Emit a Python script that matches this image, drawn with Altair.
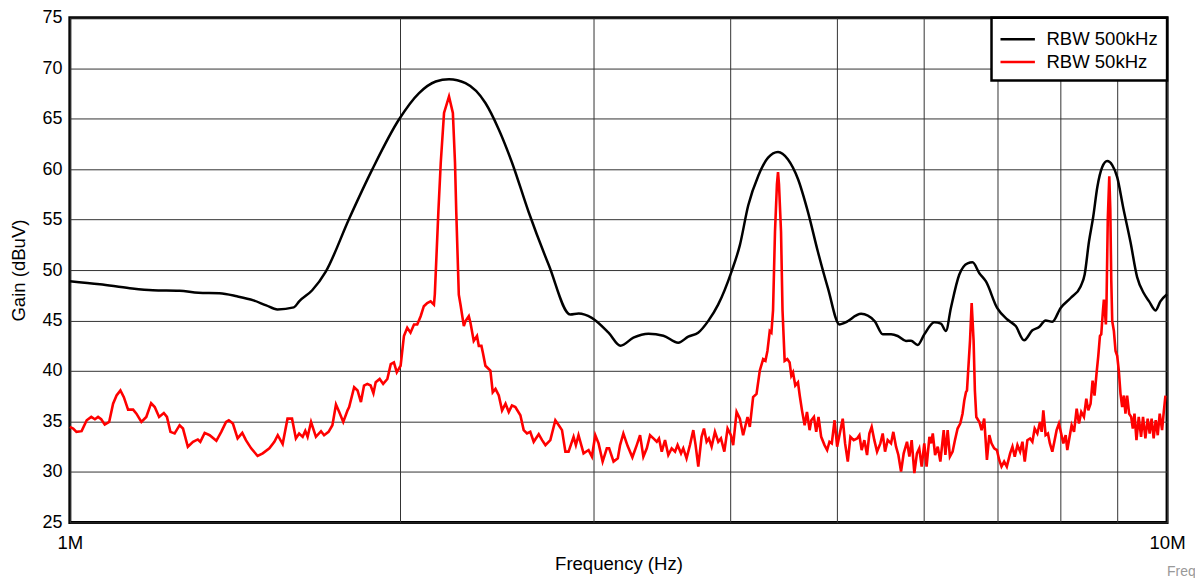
import altair as alt
import pandas as pd

# RBW 500kHz trace (frequency in MHz, gain in dBuV)
freq_500k = [1.000, 1.065, 1.134, 1.190, 1.259, 1.310, 1.369, 1.420, 1.470, 1.510,
             1.546, 1.600, 1.618, 1.663, 1.711, 1.797, 1.887, 1.995, 2.081, 2.155,
             2.216, 2.294, 2.392, 2.460, 2.529, 2.619, 2.732, 2.858, 2.909, 2.990,
             3.097, 3.176, 3.263, 3.368, 3.475, 3.585, 3.661, 3.738, 3.817, 3.898,
             4.009, 4.080, 4.152, 4.241, 4.329, 4.420, 4.512, 4.609, 4.707, 4.806,
             4.908, 5.029, 5.082, 5.262, 5.413, 5.507, 5.603, 5.682, 5.782, 5.843,
             5.925, 6.008, 6.135, 6.221, 6.287, 6.353, 6.465, 6.579, 6.648, 6.744,
             6.838, 7.000, 7.152, 7.279, 7.408, 7.538, 7.645, 7.750, 7.860, 7.998,
             8.168, 8.341, 8.411, 8.488, 8.565, 8.638, 8.728, 8.820, 8.913, 9.006,
             9.120, 9.260, 9.391, 9.524, 9.630, 9.759, 9.861, 10.000]
gain_500k = [48.9, 48.6, 48.2, 48.0, 47.95, 47.75, 47.7, 47.4, 47.0, 46.5,
             46.1, 46.3, 46.9, 48.0, 49.85, 55.09, 60.0, 64.91, 67.53, 68.68,
             68.91, 68.52, 66.55, 63.93, 60.66, 55.75, 50.5, 45.6, 45.7, 45.27,
             43.8, 42.5, 43.3, 43.7, 43.5, 42.8, 43.4, 43.79, 44.94, 46.57,
             49.85, 52.47, 56.4, 59.35, 61.14, 61.7, 60.98, 59.02, 55.74, 51.81,
             48.21, 44.61, 44.77, 45.66, 44.94, 43.63, 43.63, 43.47, 42.98, 43.0,
             42.58, 43.63, 44.84, 44.7, 43.96, 46.25, 49.53, 50.67, 50.77, 49.69,
             48.87, 46.25, 45.1, 44.45, 43.04, 44.03, 44.35, 45.01, 44.88, 46.25,
             47.23, 48.38, 49.53, 52.8, 55.3, 58.2, 60.2, 60.8, 60.4, 59.2,
             56.2, 52.8, 49.3, 47.7, 46.9, 46.0, 46.9, 47.6]

# RBW 50kHz trace (frequency in MHz, gain in dBuV)
freq_50k = [1.000, 1.007, 1.014, 1.025, 1.036, 1.046, 1.054, 1.061, 1.068, 1.076,
            1.086, 1.095, 1.103, 1.112, 1.120, 1.130, 1.142, 1.150, 1.162, 1.174,
            1.186, 1.195, 1.206, 1.218, 1.226, 1.235, 1.246, 1.259, 1.268, 1.281,
            1.295, 1.308, 1.315, 1.327, 1.341, 1.360, 1.374, 1.388, 1.396, 1.408,
            1.422, 1.436, 1.447, 1.463, 1.483, 1.499, 1.520, 1.536, 1.547, 1.563,
            1.579, 1.594, 1.607, 1.618, 1.630, 1.639, 1.647, 1.659, 1.676, 1.694,
            1.705, 1.721, 1.735, 1.748, 1.760, 1.775, 1.791,
            1.797, 1.816, 1.829, 1.842, 1.854, 1.867, 1.880, 1.891, 1.900, 1.916,
            1.930, 1.947, 1.961, 1.974, 1.986, 2.002, 2.016, 2.030, 2.044, 2.059,
            2.073, 2.088, 2.102, 2.117, 2.132, 2.147, 2.151, 2.167, 2.178, 2.193,
            2.216, 2.234, 2.244, 2.250, 2.262, 2.270, 2.286, 2.294, 2.310, 2.318,
            2.334, 2.350, 2.359, 2.372, 2.379, 2.392, 2.417, 2.429, 2.443, 2.460,
            2.477, 2.495, 2.512, 2.529, 2.547, 2.574, 2.592, 2.610, 2.628, 2.647,
            2.675, 2.694, 2.713, 2.741, 2.770, 2.790, 2.809, 2.829, 2.848, 2.878,
            2.892, 2.908, 2.939, 2.970, 2.991, 3.012, 3.033, 3.059, 3.086,
            3.101, 3.130, 3.158, 3.173, 3.195, 3.224, 3.256, 3.286, 3.309, 3.332,
            3.356, 3.379, 3.403, 3.427, 3.443, 3.463, 3.487, 3.511, 3.536, 3.561,
            3.580, 3.606, 3.623, 3.648, 3.674, 3.700, 3.718, 3.739, 3.765, 3.784,
            3.805, 3.823, 3.845, 3.872, 3.899, 3.921, 3.949, 3.976, 4.004, 4.023,
            4.052, 4.080, 4.108, 4.146,
            4.166, 4.195, 4.225, 4.254, 4.284, 4.305, 4.323, 4.344, 4.359, 4.374,
            4.392, 4.410, 4.420, 4.429, 4.448, 4.462, 4.482, 4.507, 4.529, 4.545,
            4.561, 4.583, 4.609, 4.626, 4.648, 4.674, 4.697, 4.723, 4.740, 4.766,
            4.789, 4.812, 4.839, 4.873, 4.900, 4.924, 4.948, 4.977, 5.004, 5.028,
            5.063, 5.088, 5.117, 5.145, 5.181, 5.218, 5.243, 5.268, 5.298, 5.328,
            5.354, 5.380, 5.410, 5.441, 5.479, 5.506, 5.533, 5.564, 5.603, 5.630,
            5.662, 5.690, 5.722, 5.754, 5.794, 5.823, 5.851, 5.884, 5.916, 5.945,
            5.975, 6.008, 6.037,
            6.073, 6.095, 6.116, 6.146, 6.180, 6.214, 6.258, 6.280, 6.310, 6.340,
            6.376, 6.407, 6.443, 6.479, 6.510, 6.534, 6.557, 6.571, 6.613, 6.636,
            6.663, 6.681, 6.701, 6.744, 6.776, 6.813, 6.852, 6.886, 6.918, 6.957,
            6.997, 7.031, 7.065, 7.104, 7.144, 7.194, 7.229, 7.264, 7.305, 7.346,
            7.382, 7.418, 7.459, 7.501, 7.538, 7.574, 7.617, 7.659, 7.686, 7.713,
            7.750, 7.788, 7.820, 7.860, 7.898, 7.931,
            7.970, 8.044, 8.083, 8.111, 8.150, 8.185, 8.226, 8.272, 8.312, 8.352,
            8.399, 8.441, 8.476, 8.517, 8.553, 8.588, 8.626, 8.656, 8.686, 8.710,
            8.740, 8.758, 8.776, 8.795, 8.807, 8.830, 8.858, 8.877, 8.895, 8.913,
            8.944, 8.975, 9.006, 9.037, 9.069, 9.101, 9.133, 9.164, 9.196, 9.235,
            9.274, 9.306, 9.339, 9.378, 9.423, 9.469, 9.508, 9.555, 9.601, 9.641,
            9.681, 9.722, 9.765, 9.806, 9.847, 9.896, 9.931, 9.966]
gain_50k = [34.46, 34.3, 33.97, 34.04, 35.12, 35.45, 35.22, 35.45, 35.22, 34.69,
            34.95, 36.76, 37.57, 38.07, 37.41, 36.17, 36.17, 35.77, 34.95, 35.45,
            36.82, 36.43, 35.45, 35.84, 35.45, 33.97, 33.81, 34.63, 34.3, 32.5,
            32.99, 33.22, 32.99, 33.87, 33.64, 33.09, 33.97, 34.95, 35.12, 34.79,
            33.32, 33.87, 33.15, 32.34, 31.58, 31.84, 32.34, 32.99, 33.64, 32.76,
            35.28, 35.28, 33.32, 33.81, 33.48, 34.07, 33.48, 34.95, 33.48, 34.04,
            33.64, 33.97, 34.63, 36.69, 35.94, 34.95, 36.1,
            36.43, 38.39, 38.07, 36.92, 38.56, 38.72, 38.56, 37.8, 38.88, 39.21,
            38.72, 39.21, 40.68, 40.85, 39.87, 40.52, 43.47, 44.29, 43.8, 44.61,
            44.61, 45.43, 46.42, 46.74, 46.9, 46.58, 47.6, 55.75, 60.66, 65.57,
            67.2, 65.57, 60.66, 55.75, 47.56, 46.58, 44.45, 44.94, 45.43, 44.78,
            42.98, 43.47, 42.49, 42.49, 41.83, 40.52, 40.03, 37.9, 38.23, 37.57,
            36.1, 36.76, 35.94, 36.59, 36.43, 35.61, 34.14, 33.81, 33.97, 32.99,
            33.74, 33.15, 32.66, 33.15, 35.12, 34.63, 34.14, 32.01, 32.01, 33.48,
            32.66, 33.64, 31.84, 32.17, 31.52, 33.64, 32.83, 31.03, 32.34,
            32.34, 31.03, 31.35, 32.66, 33.81, 32.56, 31.45, 32.66, 33.64, 31.52,
            32.34, 33.64, 33.32, 32.99, 33.32, 32.01, 33.15, 31.68, 32.34, 32.01,
            32.66, 31.84, 32.34, 31.35, 32.66, 34.14, 32.66, 30.53, 33.48, 34.3,
            32.99, 33.32, 32.5, 33.97, 32.99, 33.32, 32.01, 34.3, 33.64, 32.66,
            35.94, 35.28, 33.64, 35.45,
            34.46, 37.41, 37.74, 40.03, 41.18, 41.01, 41.99, 43.96, 43.8, 46.0,
            53.8, 58.5, 59.7, 58.5, 53.8, 46.0, 41.01, 41.18, 40.85, 39.54,
            39.87, 38.56, 38.88, 37.57, 36.1, 34.63, 35.94, 34.14, 35.12, 35.45,
            33.97, 35.45, 33.48, 32.66, 32.17, 32.99, 32.83, 35.12, 32.5, 33.64,
            35.28, 32.83, 31.03, 33.48, 33.15, 33.32, 33.64, 32.17, 33.15, 31.68,
            33.81, 34.46, 33.15, 32.01, 32.83, 33.81, 32.01, 33.15, 32.83, 33.97,
            32.5, 31.68, 30.04, 31.84, 32.99, 31.52, 33.15, 29.88, 31.84, 32.34,
            30.53, 32.83, 30.53,
            33.48, 32.83, 33.81, 31.68, 32.5, 31.03, 34.14, 31.68, 34.14, 31.52,
            32.01, 33.15, 34.3, 34.79, 35.77, 37.08, 37.9, 38.07, 42.98, 46.74,
            42.98, 38.07, 35.44, 34.95, 34.14, 35.28, 31.19, 33.64, 32.83, 32.34,
            32.17, 31.19, 30.53, 31.03, 30.53, 31.84, 32.5, 31.52, 32.66, 32.01,
            32.99, 31.03, 33.15, 33.32, 32.99, 34.3, 33.81, 34.95, 33.97, 36.1,
            33.64, 33.81, 32.83, 32.01, 33.15, 34.14,
            34.79, 32.83, 33.64, 32.17, 33.48, 34.63, 33.97, 36.26, 34.79, 35.94,
            35.45, 37.25, 36.1, 36.75, 39.05, 37.57, 39.87, 41.5, 43.47, 43.63,
            45.92, 47.07, 45.92, 44.61, 46.9, 55.0, 59.3, 56.0, 49.0, 44.94,
            43.96, 41.99, 41.5, 40.03, 37.74, 36.43, 37.57, 35.77, 37.57, 35.77,
            35.45, 34.3, 35.77, 33.15, 35.45, 33.48, 35.45, 33.32, 35.28, 33.81,
            35.28, 33.32, 35.12, 33.64, 35.77, 34.14, 35.94, 37.57]

series_names = ["RBW 500kHz", "RBW 50kHz"]
series_colors = ["#000000", "#ff0000"]
x_grid_values = [1, 2, 3, 4, 5, 6, 7, 8, 9, 10]
y_values = [25, 30, 35, 40, 45, 50, 55, 60, 65, 70, 75]

df_b = pd.DataFrame({"freq": freq_500k, "gain": gain_500k, "series": series_names[0]})
df_r = pd.DataFrame({"freq": freq_50k, "gain": gain_50k, "series": series_names[1]})

FONT = "Liberation Sans"
FS = 18.6

x_enc = alt.X(
    "freq:Q",
    scale=alt.Scale(type="log", domain=[1, 10], nice=False),
    axis=alt.Axis(
        values=x_grid_values,
        labelExpr="datum.value == 1 ? '1M' : (datum.value == 10 ? '10M' : '')",
        labelFlush=False,
        labelOverlap=False,
        labelPadding=11,
        labelFontSize=FS,
        title="Frequency (Hz)",
        titlePadding=3,
    ),
)
y_enc = alt.Y(
    "gain:Q",
    scale=alt.Scale(domain=[25, 75], nice=False, zero=False),
    axis=alt.Axis(values=y_values, labelPadding=8, labelFontSize=18,
                  title="Gain (dBuV)", titlePadding=13),
)
color_enc = alt.Color(
    "series:N",
    scale=alt.Scale(domain=series_names, range=series_colors),
    legend=alt.Legend(title=None, orient="top-right", offset=0),
)

black = alt.Chart(df_b).mark_line(strokeWidth=2.5, interpolate="monotone").encode(
    x=x_enc, y=y_enc, color=color_enc)
red = alt.Chart(df_r).mark_line(strokeWidth=2.6).encode(x=x_enc, y=y_enc, color=color_enc)

chart = (
    alt.layer(black, red)
    .properties(
        width=1100,
        height=506,
        padding={"left": 62, "top": 9, "right": 28, "bottom": 55},
        autosize=alt.AutoSizeParams(type="none"),
        title=alt.TitleParams(
            "Freq", orient="bottom", anchor="end", align="left", frame="group",
            fontSize=14, color="#999999", fontWeight="normal", font=FONT, offset=-8,
        ),
    )
    .configure_view(stroke="#000000", strokeWidth=3)
    .configure_axis(
        grid=True, gridColor="#333333", gridWidth=1, domain=False, ticks=False,
        labelFont=FONT, labelColor="#000000",
        titleFont=FONT, titleFontSize=FS, titleFontWeight="normal", titleColor="#000000",
    )
    .configure_legend(
        strokeColor="#000000", strokeWidth=2.5, fillColor="#ffffff", padding=8.5,
        symbolType="M-1.5,0H1.5", symbolStrokeWidth=2.5, symbolSize=529, symbolOffset=4.75,
        labelFont=FONT, labelFontSize=FS, labelColor="#000000", labelOffset=15.75,
        rowPadding=0, cornerRadius=0,
    )
)

chart.save("out.html", embed_options={"renderer": "svg", "actions": False})
